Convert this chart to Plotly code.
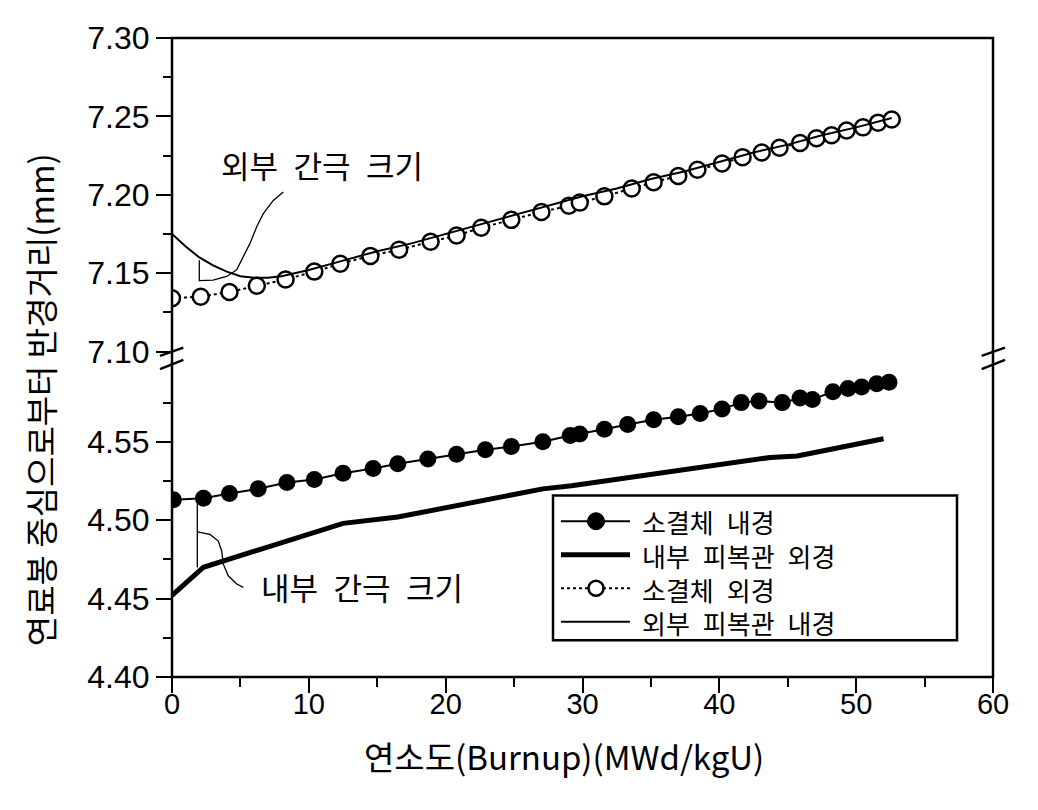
import plotly.graph_objects as go

# ---------------- data ----------------
# 소결체 내경 (pellet inner radius), lower panel
pellet_in_x = [0.1, 2.3, 4.2, 6.3, 8.4, 10.4, 12.5, 14.7, 16.5, 18.7, 20.8, 22.9, 24.8, 27.1,
               29.1, 29.8, 31.6, 33.3, 35.2, 37.0, 38.6, 40.2, 41.6, 42.9, 44.6, 45.9, 46.8,
               48.3, 49.4, 50.4, 51.5, 52.4]
pellet_in_y = [4.513, 4.514, 4.517, 4.520, 4.524, 4.526, 4.530, 4.533, 4.536, 4.539, 4.542,
               4.545, 4.547, 4.550, 4.554, 4.555, 4.558, 4.561, 4.564, 4.566, 4.568, 4.571,
               4.575, 4.576, 4.575, 4.578, 4.577, 4.582, 4.584, 4.585, 4.587, 4.588]

# 내부 피복관 외경 (inner cladding outer radius), lower panel
clad_in_out_x = [0.0, 2.3, 12.5, 16.5, 27.1, 29.2, 43.7, 45.7, 52.0]
clad_in_out_y = [4.452, 4.470, 4.498, 4.502, 4.520, 4.522, 4.540, 4.541, 4.552]

# 소결체 외경 (pellet outer radius), upper panel
pellet_out_x = [0.0, 2.1, 4.2, 6.2, 8.3, 10.4, 12.3, 14.5, 16.6, 18.9, 20.8, 22.6, 24.8, 27.0,
                29.0, 29.8, 31.6, 33.6, 35.2, 37.0, 38.4, 40.2, 41.7, 43.1, 44.4, 45.9, 47.1,
                48.2, 49.3, 50.5, 51.6, 52.6]
pellet_out_y = [7.134, 7.135, 7.138, 7.142, 7.146, 7.151, 7.156, 7.161, 7.165, 7.170, 7.174,
                7.179, 7.184, 7.189, 7.193, 7.195, 7.199, 7.204, 7.208, 7.212, 7.216, 7.220,
                7.224, 7.227, 7.230, 7.233, 7.236, 7.238, 7.241, 7.243, 7.246, 7.248]

# 외부 피복관 내경 (outer cladding inner radius), upper panel
clad_out_in_x = [0, 1, 2, 3, 4, 5, 6, 7, 8, 10, 12.5, 15, 17.5, 20, 22.5, 25, 27.5, 30, 32.5,
                 35, 37.5, 40, 42.5, 45, 47.5, 50, 52.6]
clad_out_in_y = [7.175, 7.167, 7.160, 7.155, 7.151, 7.148, 7.147, 7.147, 7.148, 7.152, 7.158,
                 7.164, 7.169, 7.175, 7.181, 7.187, 7.193, 7.199, 7.204, 7.210, 7.215, 7.221,
                 7.227, 7.232, 7.238, 7.243, 7.249]

names = ["소결체 내경", "내부 피복관 외경", "소결체 외경", "외부 피복관 내경"]
x_title = "연소도(Burnup)(MWd/kgU)"
y_title = "연료봉 중심으로부터 반경거리(mm)"
outer_gap_label = "외부 간극 크기"
inner_gap_label = "내부 간극 크기"

KR = "Noto Sans CJK KR"
NUM = "Liberation Sans, Arial, sans-serif"
WIDE = "\u2002"  # wider word gap, as in the reference typeface

fig = go.Figure()
fig.add_trace(go.Scatter(x=pellet_in_x, y=pellet_in_y, name=names[0], mode="lines+markers",
                         line=dict(color="black", width=2),
                         marker=dict(symbol="circle", size=17, color="black"),
                         xaxis="x", yaxis="y2", showlegend=False))
fig.add_trace(go.Scatter(x=clad_in_out_x, y=clad_in_out_y, name=names[1], mode="lines",
                         line=dict(color="black", width=5),
                         xaxis="x", yaxis="y2", showlegend=False))
fig.add_trace(go.Scatter(x=pellet_out_x, y=pellet_out_y, name=names[2], mode="lines+markers",
                         line=dict(color="black", width=2, dash="dot"),
                         marker=dict(symbol="circle", size=16, color="white",
                                     line=dict(color="black", width=2.5)),
                         xaxis="x", yaxis="y", showlegend=False))
fig.add_trace(go.Scatter(x=clad_out_in_x, y=clad_out_in_y, name=names[3], mode="lines",
                         line=dict(color="black", width=2),
                         xaxis="x", yaxis="y", showlegend=False))

tick_font = dict(family=NUM, size=32, color="black")

# page body has an 8px margin: figure is placed at (8, 8)
fig.update_layout(
    width=1022, height=794,
    margin=dict(l=164, r=37, t=25, b=125),
    paper_bgcolor="white", plot_bgcolor="white",
    showlegend=False,
    xaxis=dict(domain=[0, 1], range=[0, 60], anchor="y2", showgrid=False, zeroline=False,
               showline=False, ticks="outside", ticklen=15, tickwidth=2, tickcolor="black",
               tick0=0, dtick=10, tickfont=dict(family=NUM, size=29, color="black"),
               ticklabelstandoff=-14,
               minor=dict(ticks="outside", ticklen=9, tickwidth=2, tickcolor="black",
                          dtick=5, tick0=0, showgrid=False)),
    yaxis=dict(domain=[0.5, 1], range=[7.0962, 7.30], anchor="x", showgrid=False,
               zeroline=False, showline=False, ticks="outside", ticklen=15, tickwidth=2,
               tickcolor="black", tick0=7.10, dtick=0.05, tickformat=".2f", tickfont=tick_font,
               minor=dict(ticks="outside", ticklen=8, tickwidth=2, tickcolor="black",
                          dtick=0.025, tick0=7.10, showgrid=False)),
    yaxis2=dict(domain=[0, 0.49], range=[4.40, 4.5997], anchor="x", showgrid=False,
                zeroline=False, showline=False, ticks="outside", ticklen=15, tickwidth=2,
                tickcolor="black", tick0=4.40, dtick=0.05, tickformat=".2f", tickfont=tick_font,
                minor=dict(ticks="outside", ticklen=8, tickwidth=2, tickcolor="black",
                           dtick=0.025, tick0=4.40, showgrid=False)),
)

# frame
fig.add_shape(type="rect", xref="paper", yref="paper", x0=0, x1=1, y0=0, y1=1,
              line=dict(color="black", width=2.5), layer="above")

# axis break marks
for (xa, xb) in [(-0.0146, 0.0138), (0.9862, 1.0146)]:
    fig.add_shape(type="line", xref="paper", yref="paper", x0=xa, x1=xb, y0=0.5026, y1=0.5155,
                  line=dict(color="black", width=2.5), layer="above")
    fig.add_shape(type="line", xref="paper", yref="paper", x0=xa, x1=xb, y0=0.4818, y1=0.4964,
                  line=dict(color="black", width=2.5), layer="above")


def px_up(px, py):
    return (px - 172) / 13.683, 7.30 - (py - 33) / 1580.0


def px_lo(px, py):
    return (px - 172) / 13.683, 4.40 + (677 - py) / 1580.0


def pp(px, py):
    return (px - 172) / 821.0, (677 - py) / 644.0


def poly(pts):
    return "M {:.4f},{:.5f} ".format(*pts[0]) + " ".join("L {:.4f},{:.5f}".format(*p) for p in pts[1:])


# leader for outer gap
up_px = [(199.3, 257), (199.3, 277.5), (213, 277), (226.7, 273.3), (236.7, 266.7),
         (243.3, 253.3), (250, 240), (256.7, 223.3), (263.3, 210), (273.3, 196.7),
         (283.3, 188.3)]
fig.add_shape(type="path", xref="x", yref="y", path=poly([px_up(*p) for p in up_px]),
              line=dict(color="black", width=1.3))

# leader for inner gap
pts = [px_lo(*p) for p in [(197.3, 503), (197.3, 566.7)]]
fig.add_shape(type="line", xref="x", yref="y2", x0=pts[0][0], y0=pts[0][1], x1=pts[1][0],
              y1=pts[1][1], line=dict(color="black", width=1.3))
lo_px = [(197.3, 530.7), (210, 533.3), (218.3, 540), (221.7, 550), (223.3, 563.3),
         (228.3, 575), (236.7, 583.3), (243.3, 586.7)]
fig.add_shape(type="path", xref="x", yref="y2", path=poly([px_lo(*p) for p in lo_px]),
              line=dict(color="black", width=1.3))

# gap annotations
ax_, ay_ = px_up(322, 160)
fig.add_annotation(x=ax_, y=ay_, xref="x", yref="y", text=outer_gap_label.replace(" ", WIDE),
                   showarrow=False, xanchor="center", yanchor="middle",
                   font=dict(family=KR, size=31, color="black"))
bx_, by_ = px_lo(361.7, 586)
fig.add_annotation(x=bx_, y=by_, xref="x", yref="y2", text=inner_gap_label.replace(" ", WIDE),
                   showarrow=False, xanchor="center", yanchor="middle",
                   font=dict(family=KR, size=31, color="black"))

# axis titles
tx, ty = pp(564, 757)
fig.add_annotation(x=tx, y=ty, xref="paper", yref="paper", text=x_title, showarrow=False,
                   xanchor="center", yanchor="middle", font=dict(family=KR, size=33, color="black"))
tx, ty = pp(40, 398)
fig.add_annotation(x=tx, y=ty, xref="paper", yref="paper", text=y_title, textangle=-90,
                   showarrow=False, xanchor="center", yanchor="middle",
                   font=dict(family=KR, size=33, color="black"))

# legend (drawn box, symbols and one block of labels)
LEG_FONT = 26           # line pitch 1.3 x font matches the reference rows
pitch = LEG_FONT * 1.3
row_y = [520 + i * pitch for i in range(4)]
lx0, ly0 = pp(553, 494)
lx1, ly1 = pp(957, 640)
fig.add_shape(type="rect", xref="paper", yref="paper", x0=lx0, x1=lx1, y0=ly1, y1=ly0,
              line=dict(color="black", width=2.5), fillcolor="white", layer="above")
line_styles = [dict(width=2, dash="solid"), dict(width=5, dash="solid"),
               dict(width=2, dash="dot"), dict(width=2, dash="solid")]
for i, name in enumerate(names):
    xa, ya = pp(561, row_y[i])
    xb, _ = pp(630, row_y[i])
    fig.add_shape(type="line", xref="paper", yref="paper", x0=xa, x1=xb, y0=ya, y1=ya,
                  line=dict(color="black", **line_styles[i]), layer="above")
    xm, _ = pp(596, row_y[i])
    if i == 0:
        fig.add_shape(type="circle", xref="paper", yref="paper", xsizemode="pixel",
                      ysizemode="pixel", xanchor=xm, yanchor=ya, x0=-8.5, x1=8.5, y0=-8.5,
                      y1=8.5, fillcolor="black", line=dict(color="black", width=1),
                      layer="above")
    elif i == 2:
        fig.add_shape(type="circle", xref="paper", yref="paper", xsizemode="pixel",
                      ysizemode="pixel", xanchor=xm, yanchor=ya, x0=-7.5, x1=7.5, y0=-7.5,
                      y1=7.5, fillcolor="white", line=dict(color="black", width=2.5),
                      layer="above")

xt, yt = pp(640, (row_y[0] + row_y[-1]) / 2)
fig.add_annotation(x=xt, y=yt, xref="paper", yref="paper",
                   text="<br>".join(n.replace(" ", WIDE) for n in names),
                   showarrow=False, xanchor="left", yanchor="middle", align="left",
                   font=dict(family=KR, size=LEG_FONT, color="black"))

fig.write_html("out.html")
